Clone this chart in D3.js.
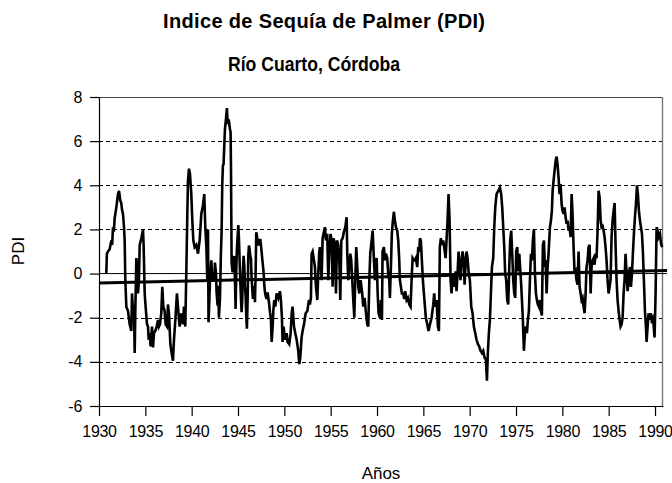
<!DOCTYPE html>
<html>
<head>
<meta charset="utf-8">
<script src="https://cdn.jsdelivr.net/npm/d3@7"></script>
<style>
  body { margin: 0; background: #fff; }
  text { font-family: "Liberation Sans", Arial, sans-serif; fill: #000; }
</style>
</head>
<body>
<script>
// PDI series: [decimal year, PDI]
var pdiSeries = [
  [1930.79,0.0],[1930.85,0.9],[1930.97,1.0],[1931.15,1.1],[1931.33,1.5],[1931.42,1.3],[1931.51,2.1],[1931.60,1.9],
  [1931.69,2.5],[1931.87,3.0],[1932.05,3.6],[1932.16,3.75],[1932.30,3.3],[1932.40,3.2],[1932.48,2.9],[1932.59,2.7],
  [1932.70,2.1],[1932.77,1.5],[1932.84,-0.3],[1932.95,-1.5],[1933.13,-1.7],[1933.31,-2.3],[1933.49,-2.6],[1933.56,-0.9],
  [1933.67,-1.7],[1933.77,-1.4],[1933.85,-3.6],[1933.92,-1.7],[1934.03,0.7],[1934.13,0.3],[1934.21,-0.9],[1934.31,-0.3],
  [1934.39,1.3],[1934.57,1.6],[1934.75,2.0],[1934.82,1.2],[1934.93,-0.9],[1935.03,-1.5],[1935.18,-2.3],[1935.29,-2.4],
  [1935.36,-3.0],[1935.47,-2.7],[1935.57,-3.3],[1935.72,-2.4],[1935.83,-3.35],[1935.93,-2.7],[1936.08,-2.6],[1936.22,-2.4],
  [1936.37,-2.1],[1936.47,-2.4],[1936.58,-2.3],[1936.72,-1.8],[1936.83,-0.6],[1936.94,-1.5],[1937.08,-1.7],[1937.19,-2.3],
  [1937.34,-2.4],[1937.44,-1.4],[1937.55,-1.8],[1937.70,-3.2],[1937.80,-3.5],[1937.98,-3.95],[1938.09,-3.0],[1938.24,-2.1],
  [1938.41,-0.9],[1938.52,-1.5],[1938.70,-2.4],[1938.88,-1.8],[1939.06,-2.3],[1939.17,-1.5],[1939.31,-2.4],[1939.42,0.0],
  [1939.53,2.7],[1939.60,4.2],[1939.71,4.75],[1939.82,4.5],[1939.96,3.6],[1940.07,2.4],[1940.18,1.5],[1940.32,1.2],
  [1940.50,1.3],[1940.68,0.9],[1940.86,1.5],[1941.04,2.7],[1941.22,3.1],[1941.36,3.6],[1941.47,2.1],[1941.58,1.3],
  [1941.69,-0.3],[1941.76,2.0],[1941.82,-2.2],[1941.98,-0.3],[1942.12,0.6],[1942.23,-0.3],[1942.35,0.0],[1942.45,-0.3],
  [1942.51,0.5],[1942.62,0.05],[1942.69,-0.85],[1942.80,-1.45],[1942.87,-0.55],[1942.94,-2.0],[1943.05,-1.15],[1943.16,1.0],
  [1943.23,1.9],[1943.30,4.0],[1943.37,4.9],[1943.44,4.95],[1943.52,5.8],[1943.59,6.55],[1943.70,7.0],[1943.80,7.5],
  [1943.88,6.85],[1944.02,6.9],[1944.13,6.55],[1944.20,6.4],[1944.24,4.9],[1944.31,0.5],[1944.42,0.06],[1944.53,0.66],
  [1944.60,0.8],[1944.67,-0.25],[1944.74,-1.6],[1944.81,0.06],[1944.88,1.1],[1944.96,1.7],[1945.03,2.2],[1945.10,1.6],
  [1945.17,0.66],[1945.24,-0.25],[1945.32,-1.15],[1945.39,-1.75],[1945.46,-1.15],[1945.53,0.06],[1945.60,0.8],[1945.68,0.35],
  [1945.75,-0.55],[1945.82,-1.0],[1945.89,-1.9],[1945.96,-2.5],[1946.04,-1.15],[1946.11,0.8],[1946.18,1.27],[1946.25,1.1],
  [1946.32,0.8],[1946.40,0.66],[1946.47,-0.25],[1946.54,-0.7],[1946.61,-1.15],[1946.68,-0.85],[1946.76,-0.55],[1946.83,-1.3],
  [1946.90,0.06],[1946.97,1.87],[1947.04,1.72],[1947.12,1.42],[1947.19,1.27],[1947.26,1.57],[1947.33,1.42],[1947.40,1.57],
  [1947.48,1.27],[1947.55,0.97],[1947.62,0.66],[1947.69,0.36],[1947.76,0.06],[1947.84,-0.55],[1947.91,-0.85],[1947.98,-1.0],
  [1948.08,-1.15],[1948.19,-0.85],[1948.34,-1.3],[1948.45,-1.75],[1948.55,-2.05],[1948.63,-3.1],[1948.74,-2.4],[1948.81,-1.7],
  [1948.91,-1.2],[1949.02,-1.5],[1949.17,-0.9],[1949.27,-1.0],[1949.35,-1.1],[1949.53,-0.8],[1949.63,-1.2],[1949.74,-2.0],
  [1949.81,-3.1],[1949.92,-2.4],[1950.07,-3.0],[1950.25,-2.7],[1950.35,-3.1],[1950.53,-3.2],[1950.68,-2.7],[1950.79,-1.8],
  [1950.89,-1.5],[1951.04,-2.4],[1951.18,-2.7],[1951.33,-3.0],[1951.50,-3.5],[1951.61,-4.1],[1951.72,-3.8],[1951.86,-2.9],
  [1951.97,-2.6],[1952.12,-2.3],[1952.30,-1.8],[1952.48,-1.7],[1952.66,-1.2],[1952.76,-1.4],[1952.87,-1.1],[1952.94,0.9],
  [1953.05,1.0],[1953.20,0.6],[1953.30,0.3],[1953.41,-0.6],[1953.56,-1.2],[1953.66,0.0],[1953.77,1.0],[1953.84,1.2],
  [1954.02,-0.3],[1954.13,1.6],[1954.27,1.9],[1954.38,2.1],[1954.49,1.5],[1954.63,1.8],[1954.74,-0.3],[1954.85,1.0],
  [1954.99,1.8],[1955.10,1.5],[1955.21,-0.6],[1955.32,1.6],[1955.46,1.3],[1955.57,-0.9],[1955.68,1.5],[1955.82,1.3],
  [1955.93,0.6],[1956.04,-1.2],[1956.15,1.5],[1956.29,1.6],[1956.43,1.9],[1956.58,2.1],[1956.72,2.55],[1956.79,0.9],
  [1956.90,-0.3],[1957.01,0.3],[1957.12,0.9],[1957.22,0.6],[1957.33,-0.3],[1957.44,-1.2],[1957.55,-2.0],[1957.65,-0.3],
  [1957.76,1.2],[1957.87,0.3],[1957.98,-0.6],[1958.09,-0.9],[1958.23,-0.3],[1958.38,-0.8],[1958.52,-1.5],[1958.66,-1.1],
  [1958.81,-1.8],[1958.95,-2.3],[1959.06,-2.4],[1959.17,-0.3],[1959.27,0.9],[1959.42,1.5],[1959.53,1.95],[1959.67,0.6],
  [1959.78,-0.3],[1959.89,0.6],[1959.96,0.7],[1960.07,-0.9],[1960.17,-1.8],[1960.32,-2.0],[1960.43,-1.2],[1960.53,-2.1],
  [1960.60,1.0],[1960.74,1.2],[1960.85,0.6],[1960.96,0.9],[1961.10,0.7],[1961.21,0.0],[1961.32,-0.3],[1961.39,-1.1],
  [1961.50,0.3],[1961.60,1.8],[1961.68,2.25],[1961.82,2.8],[1961.93,2.4],[1962.04,2.1],[1962.18,1.95],[1962.29,1.5],
  [1962.40,0.6],[1962.47,-0.3],[1962.58,-0.6],[1962.68,-0.9],[1962.83,-0.9],[1962.94,-1.15],[1963.04,-0.8],[1963.19,-1.2],
  [1963.33,-1.1],[1963.48,-1.4],[1963.62,-1.5],[1963.73,-0.3],[1963.84,0.7],[1963.98,0.6],[1964.09,0.6],[1964.20,0.7],
  [1964.34,0.3],[1964.45,1.2],[1964.55,1.0],[1964.63,1.6],[1964.73,1.5],[1964.84,0.6],[1964.95,-0.3],[1965.06,-0.9],
  [1965.17,-1.5],[1965.27,-2.0],[1965.42,-2.3],[1965.56,-2.6],[1965.71,-2.3],[1965.89,-2.0],[1966.07,-1.4],[1966.17,-0.9],
  [1966.28,-1.5],[1966.43,-1.2],[1966.57,-2.4],[1966.68,-2.6],[1966.78,1.2],[1966.89,1.6],[1967.00,1.3],[1967.14,1.5],
  [1967.25,1.2],[1967.40,0.7],[1967.50,1.5],[1967.61,2.4],[1967.72,3.6],[1967.83,2.4],[1967.94,-0.3],[1968.04,-0.9],
  [1968.15,-0.3],[1968.26,0.0],[1968.37,-0.6],[1968.48,0.1],[1968.58,-0.8],[1968.69,0.0],[1968.80,1.0],[1968.91,0.3],
  [1969.01,-0.3],[1969.12,0.6],[1969.23,1.0],[1969.34,0.7],[1969.45,-0.5],[1969.55,0.3],[1969.66,1.0],[1969.77,0.7],
  [1969.88,0.1],[1970.02,-0.3],[1970.17,-1.5],[1970.31,-1.8],[1970.45,-2.4],[1970.60,-2.7],[1970.74,-3.0],[1970.89,-3.2],
  [1971.03,-3.3],[1971.17,-3.5],[1971.32,-3.6],[1971.46,-3.5],[1971.60,-3.8],[1971.75,-3.9],[1971.86,-4.85],[1971.96,-3.6],
  [1972.07,-2.7],[1972.18,-2.1],[1972.29,-0.9],[1972.40,0.3],[1972.54,0.7],[1972.65,2.1],[1972.76,3.0],[1972.90,3.6],
  [1973.08,3.75],[1973.26,3.9],[1973.40,3.6],[1973.51,3.0],[1973.62,2.1],[1973.73,1.2],[1973.83,0.0],[1973.94,-0.3],
  [1974.05,-1.2],[1974.16,-1.4],[1974.27,0.3],[1974.37,1.5],[1974.48,1.95],[1974.59,0.9],[1974.70,-0.3],[1974.81,-0.9],
  [1974.91,-1.1],[1975.02,1.0],[1975.13,1.2],[1975.24,0.1],[1975.35,0.9],[1975.53,-0.3],[1975.64,-1.2],[1975.74,-2.1],
  [1975.85,-3.5],[1975.96,-2.7],[1976.07,-2.4],[1976.18,-2.7],[1976.28,-2.1],[1976.39,-1.7],[1976.50,-0.3],[1976.61,0.9],
  [1976.71,0.6],[1976.82,1.5],[1976.93,2.0],[1977.04,0.0],[1977.15,-0.9],[1977.25,-1.2],[1977.36,-1.4],[1977.47,-1.5],
  [1977.58,-1.2],[1977.69,-1.7],[1977.79,-1.9],[1977.90,1.3],[1978.01,1.5],[1978.12,0.3],[1978.19,0.6],[1978.30,-0.9],
  [1978.41,0.3],[1978.51,0.9],[1978.66,2.1],[1978.77,2.4],[1978.87,2.85],[1978.95,3.75],[1979.05,4.2],[1979.16,4.65],
  [1979.27,5.1],[1979.38,5.3],[1979.48,4.95],[1979.59,4.35],[1979.70,3.6],[1979.81,4.05],[1979.92,3.15],[1980.02,2.85],
  [1980.13,2.7],[1980.24,3.0],[1980.35,2.55],[1980.46,2.25],[1980.56,2.4],[1980.67,1.95],[1980.78,2.1],[1980.89,1.65],
  [1981.00,3.6],[1981.10,2.7],[1981.21,1.2],[1981.32,0.0],[1981.43,0.1],[1981.53,-0.3],[1981.64,-0.5],[1981.75,1.0],
  [1981.86,-0.6],[1981.97,-0.9],[1982.07,-1.2],[1982.18,-1.1],[1982.29,-1.5],[1982.40,-1.8],[1982.51,-0.9],[1982.61,0.3],
  [1982.72,0.6],[1982.83,1.2],[1982.94,1.3],[1983.05,-0.9],[1983.15,0.3],[1983.26,0.6],[1983.37,0.7],[1983.48,0.4],
  [1983.59,0.9],[1983.69,0.7],[1983.80,1.95],[1983.91,3.75],[1984.02,3.45],[1984.13,2.4],[1984.23,2.1],[1984.34,2.15],
  [1984.45,1.95],[1984.56,1.65],[1984.66,1.2],[1984.77,0.6],[1984.88,-0.3],[1984.99,-0.9],[1985.10,-0.6],[1985.20,-0.3],
  [1985.31,1.65],[1985.42,2.4],[1985.53,2.85],[1985.64,3.2],[1985.74,1.3],[1985.85,-0.3],[1985.96,-1.2],[1986.07,-1.7],
  [1986.18,-2.1],[1986.28,-2.4],[1986.39,-2.3],[1986.50,-2.0],[1986.61,-0.9],[1986.71,-0.3],[1986.82,0.9],[1986.93,0.0],
  [1987.04,-0.8],[1987.15,-0.3],[1987.29,0.3],[1987.40,-0.6],[1987.51,0.0],[1987.61,0.9],[1987.72,1.8],[1987.83,2.55],
  [1987.94,3.15],[1988.05,4.0],[1988.15,3.6],[1988.26,2.85],[1988.37,2.4],[1988.48,2.1],[1988.59,1.8],[1988.69,1.0],
  [1988.80,-0.3],[1988.91,-1.7],[1989.02,-2.4],[1989.09,-3.1],[1989.20,-2.4],[1989.30,-1.8],[1989.41,-2.1],[1989.52,-1.8],
  [1989.63,-2.1],[1989.74,-2.0],[1989.84,-2.3],[1989.95,-2.9],[1990.06,-0.9],[1990.17,2.1],[1990.28,1.95],[1990.38,1.65],
  [1990.53,1.8],[1990.67,1.3],[1990.78,1.2]
];

// linear trend (thick line) and zero line ends
var trendYears = [1930, 1991.3];
var trendValues = [-0.43, 0.14];
var zeroValues = [0, 0];

var xTicks = [1930, 1935, 1940, 1945, 1950, 1955, 1960, 1965, 1970, 1975, 1980, 1985, 1990];
var yTicks = [-6, -4, -2, 0, 2, 4, 6, 8];
var gridValues = [-4, -2, 2, 4, 6];

var titleLines = ["Indice de Sequía de Palmer (PDI)", "Río Cuarto, Córdoba"];

var W = 672, H = 483;
var margin = {top: 97, right: 9, bottom: 77, left: 99},
    width = W - margin.left - margin.right,
    height = H - margin.top - margin.bottom;

var x = d3.scaleLinear().domain([1930, 1990.86]).range([0, width]);
var y = d3.scaleLinear().domain([-6, 8]).range([height, 0]);

var svg = d3.select('body').append('svg')
    .attr('width', W)
    .attr('height', H);

var g = svg.append('g')
    .attr('transform', 'translate(' + margin.left + ',' + margin.top + ')');

// dashed grid
g.selectAll('.grid')
  .data(gridValues)
  .enter()
  .append('line')
  .attr('class', 'grid')
  .attr('x1', 0)
  .attr('x2', width)
  .attr('y1', function(d) { return Math.round(y(d)) + 0.5; })
  .attr('y2', function(d) { return Math.round(y(d)) + 0.5; })
  .style('stroke', '#000')
  .style('stroke-width', 1)
  .style('stroke-dasharray', '4,3');

// frame top / right
g.append('line')
  .attr('x1', 0).attr('x2', width)
  .attr('y1', y(8) + 0.5).attr('y2', y(8) + 0.5)
  .style('stroke', '#444').style('stroke-width', 1.2);
g.append('line')
  .attr('x1', width - 0.5).attr('x2', width - 0.5)
  .attr('y1', y(8)).attr('y2', y(-6))
  .style('stroke', '#777').style('stroke-width', 1.4);

var line = d3.line()
  .x(function(d) { return x(d[0]); })
  .y(function(d) { return y(d[1]); });

// zero line
g.append('path')
  .datum(trendYears.map(function(t, i) { return [t, zeroValues[i]]; }))
  .attr('d', line)
  .style('fill', 'none')
  .style('stroke', '#000')
  .style('stroke-width', 1);

// PDI
g.append('path')
  .datum(pdiSeries)
  .attr('d', line)
  .style('fill', 'none')
  .style('stroke', '#000')
  .style('stroke-width', 2.6)
  .style('stroke-linejoin', 'miter');

// trend
g.append('path')
  .datum(trendYears.map(function(t, i) { return [t, trendValues[i]]; }))
  .attr('d', line)
  .style('fill', 'none')
  .style('stroke', '#000')
  .style('stroke-width', 3);

var yAxis = d3.axisLeft(y)
  .tickValues(yTicks)
  .tickSize(9)
  .tickSizeOuter(0)
  .tickPadding(8)
  .tickFormat(function(d) { return String(d); });

var xAxis = d3.axisBottom(x)
  .tickValues(xTicks)
  .tickSize(10)
  .tickSizeOuter(0)
  .tickPadding(10)
  .tickFormat(function(d) { return d; });

var ya = g.append('g').attr('class', 'y axis').call(yAxis);
var xa = g.append('g').attr('class', 'x axis')
  .attr('transform', 'translate(0,' + height + ')')
  .call(xAxis);

[ya, xa].forEach(function(a) {
  a.selectAll('path, line').style('stroke', '#000').style('stroke-width', 1.2);
  a.selectAll('text')
    .style('font-size', '16px')
    .style('letter-spacing', '-0.3px')
    .style('font-family', '"Liberation Sans", Arial, sans-serif')
    .attr('fill', '#000');
});

svg.append('text')
  .attr('x', 324)
  .attr('y', 28)
  .attr('text-anchor', 'middle')
  .attr('textLength', 322)
  .attr('lengthAdjust', 'spacing')
  .style('font-size', '20px')
  .style('font-weight', 'bold')
  .text(titleLines[0]);

svg.append('text')
  .attr('x', 314)
  .attr('y', 71)
  .attr('text-anchor', 'middle')
  .attr('textLength', 172)
  .attr('lengthAdjust', 'spacingAndGlyphs')
  .style('font-size', '20px')
  .style('font-weight', 'bold')
  .text(titleLines[1]);

svg.append('text')
  .attr('transform', 'translate(24,251) rotate(-90)')
  .attr('text-anchor', 'middle')
  .style('font-size', '17px')
  .text('PDI');

svg.append('text')
  .attr('x', 381)
  .attr('y', 479)
  .attr('text-anchor', 'middle')
  .style('font-size', '17px')
  .text('Años');
</script>
</body>
</html>
